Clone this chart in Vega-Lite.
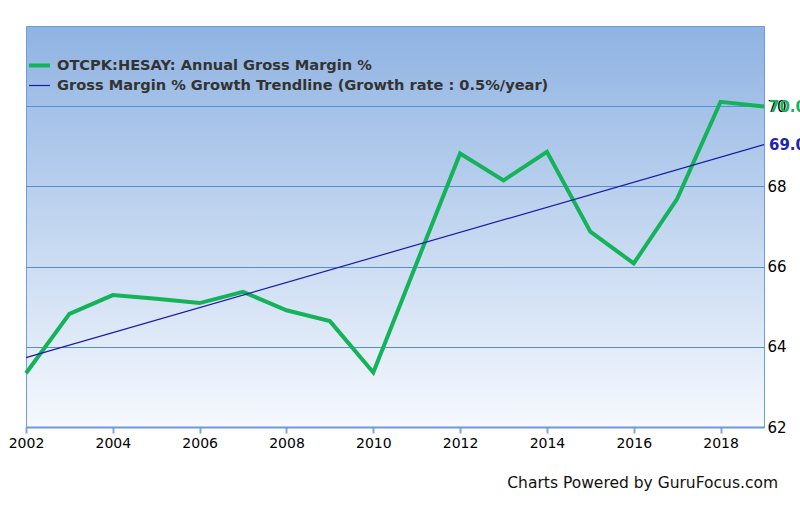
{
  "$schema": "https://vega.github.io/schema/vega-lite/v6.json",
  "width": 738,
  "height": 401,
  "autosize": "none",
  "padding": {"left": 26, "top": 26, "right": 36, "bottom": 80},
  "background": "white",
  "title": {
    "text": "Charts Powered by GuruFocus.com",
    "orient": "bottom",
    "anchor": "end",
    "frame": "group",
    "offset": 26,
    "dx": 14,
    "font": "DejaVu Sans",
    "fontSize": 15.5,
    "fontWeight": "normal",
    "color": "#111111"
  },
  "config": {
    "font": "DejaVu Sans",
    "view": {
      "stroke": "#6f9be0",
      "strokeWidth": 1,
      "fill": {
        "gradient": "linear",
        "x1": 0, "y1": 0, "x2": 0, "y2": 1,
        "stops": [
          {"offset": 0, "color": "#8fb3e2"},
          {"offset": 1, "color": "#f6f9fe"}
        ]
      }
    }
  },
  "datasets": {
    "series": [
      {"year": 2002, "value": 63.34, "series": "OTCPK:HESAY: Annual Gross Margin %"},
      {"year": 2003, "value": 64.82, "series": "OTCPK:HESAY: Annual Gross Margin %"},
      {"year": 2004, "value": 65.29, "series": "OTCPK:HESAY: Annual Gross Margin %"},
      {"year": 2005, "value": 65.2, "series": "OTCPK:HESAY: Annual Gross Margin %"},
      {"year": 2006, "value": 65.09, "series": "OTCPK:HESAY: Annual Gross Margin %"},
      {"year": 2007, "value": 65.37, "series": "OTCPK:HESAY: Annual Gross Margin %"},
      {"year": 2008, "value": 64.91, "series": "OTCPK:HESAY: Annual Gross Margin %"},
      {"year": 2009, "value": 64.64, "series": "OTCPK:HESAY: Annual Gross Margin %"},
      {"year": 2010, "value": 63.36, "series": "OTCPK:HESAY: Annual Gross Margin %"},
      {"year": 2011, "value": 66.09, "series": "OTCPK:HESAY: Annual Gross Margin %"},
      {"year": 2012, "value": 68.82, "series": "OTCPK:HESAY: Annual Gross Margin %"},
      {"year": 2013, "value": 68.15, "series": "OTCPK:HESAY: Annual Gross Margin %"},
      {"year": 2014, "value": 68.86, "series": "OTCPK:HESAY: Annual Gross Margin %"},
      {"year": 2015, "value": 66.87, "series": "OTCPK:HESAY: Annual Gross Margin %"},
      {"year": 2016, "value": 66.08, "series": "OTCPK:HESAY: Annual Gross Margin %"},
      {"year": 2017, "value": 67.69, "series": "OTCPK:HESAY: Annual Gross Margin %"},
      {"year": 2018, "value": 70.11, "series": "OTCPK:HESAY: Annual Gross Margin %"},
      {"year": 2019, "value": 69.99, "series": "OTCPK:HESAY: Annual Gross Margin %"},
      {"year": 2002, "value": 63.73, "series": "Gross Margin % Growth Trendline (Growth rate : 0.5%/year)"},
      {"year": 2019, "value": 69.04, "series": "Gross Margin % Growth Trendline (Growth rate : 0.5%/year)"}
    ]
  },
  "data": {"name": "series"},
  "encoding": {
    "x": {
      "field": "year",
      "type": "quantitative",
      "scale": {"domain": [2002, 2019], "nice": false, "zero": false},
      "axis": {
        "title": null,
        "values": [2002, 2004, 2006, 2008, 2010, 2012, 2014, 2016, 2018],
        "format": "d",
        "grid": false,
        "domainColor": "#6d9ad9",
        "domainWidth": 2,
        "tickColor": "#7ea6e0",
        "tickSize": 6,
        "tickWidth": 2,
        "labelFontSize": 14,
        "labelColor": "#000000",
        "labelPadding": 3,
        "labelFlush": false
      }
    },
    "y": {
      "field": "value",
      "type": "quantitative",
      "scale": {"domain": [62, 72], "nice": false, "zero": false},
      "axis": {
        "title": null,
        "orient": "right",
        "values": [62, 64, 66, 68, 70],
        "grid": true,
        "gridColor": "#5b8bd6",
        "gridWidth": 1,
        "domain": false,
        "ticks": false,
        "labelFontSize": 15,
        "labelColor": "#000000",
        "labelPadding": 3
      }
    }
  },
  "layer": [
    {
      "mark": {"type": "line", "strokeJoin": "miter", "strokeCap": "butt"},
      "encoding": {
        "color": {
          "field": "series",
          "type": "nominal",
          "scale": {
            "domain": ["OTCPK:HESAY: Annual Gross Margin %", "Gross Margin % Growth Trendline (Growth rate : 0.5%/year)"],
            "range": ["#14b35a", "#1a1aa8"]
          },
          "legend": {
            "title": null,
            "orient": "none",
            "legendX": 1,
            "legendY": 27,
            "symbolType": "stroke",
            "symbolSize": 441,
            "labelFontSize": 14.6,
            "labelFontWeight": "bold",
            "labelColor": "#333333",
            "labelLimit": 600,
            "rowPadding": -1,
            "labelOffset": 5,
            "padding": 0
          }
        },
        "strokeWidth": {
          "field": "series",
          "type": "nominal",
          "scale": {
            "domain": ["OTCPK:HESAY: Annual Gross Margin %", "Gross Margin % Growth Trendline (Growth rate : 0.5%/year)"],
            "range": [4, 1.2]
          },
          "legend": {
            "title": null,
            "orient": "none",
            "legendX": 1,
            "legendY": 27,
            "symbolType": "stroke",
            "symbolSize": 441,
            "labelFontSize": 14.6,
            "labelFontWeight": "bold",
            "labelColor": "#333333",
            "labelLimit": 600,
            "rowPadding": -1,
            "labelOffset": 5,
            "padding": 0
          }
        }
      }
    },
    {
      "transform": [{"filter": "datum.year == 2019 && datum.series == 'OTCPK:HESAY: Annual Gross Margin %'"}],
      "mark": {"type": "text", "align": "left", "baseline": "middle", "dx": 5, "fontSize": 15, "fontWeight": "bold", "color": "#14b35a"},
      "encoding": {"text": {"field": "value", "type": "quantitative", "format": ".1f"}}
    },
    {
      "transform": [{"filter": "datum.year == 2019 && datum.series != 'OTCPK:HESAY: Annual Gross Margin %'"}],
      "mark": {"type": "text", "align": "left", "baseline": "middle", "dx": 5, "fontSize": 15, "fontWeight": "bold", "color": "#1c24b0"},
      "encoding": {"text": {"field": "value", "type": "quantitative", "format": ".1f"}}
    }
  ]
}
